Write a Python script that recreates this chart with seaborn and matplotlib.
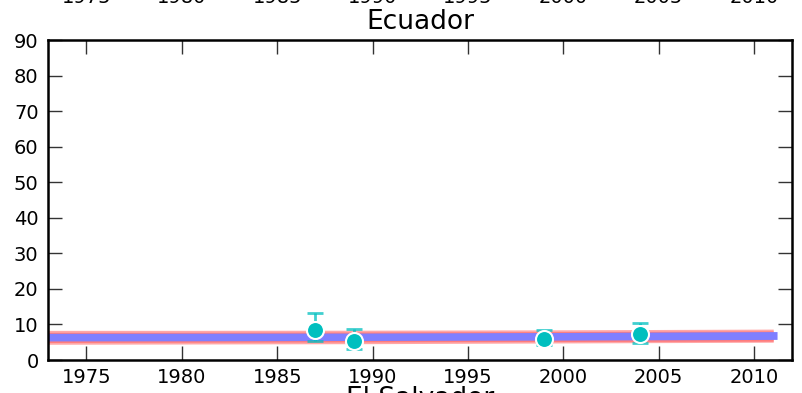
import matplotlib
matplotlib.use("Agg")
import matplotlib.pyplot as plt
import matplotlib.transforms as mtransforms
import seaborn as sns
import pandas as pd

# survey points with error bars
years = [1987, 1989, 1999, 2004]
values = [8.45, 5.4, 5.9, 7.2]
err_low = [5.4, 3.0, 4.3, 4.7]
err_high = [13.1, 8.7, 8.45, 10.3]

# model bands (outer / inner red, blue)
band_years = [1970, 1980, 1990, 2000, 2011]
outer_lo = [4.4, 4.5, 4.6, 4.8, 5.0]
outer_hi = [8.35, 8.35, 8.4, 8.5, 8.7]
inner_lo = [4.9, 5.0, 5.1, 5.2, 5.3]
inner_hi = [7.8, 7.8, 7.9, 8.0, 8.2]
blue_years = [1970, 1980, 1990, 2000, 2011.2]
blue_lo = [5.35, 5.4, 5.5, 5.6, 5.8]
blue_hi = [7.5, 7.55, 7.6, 7.75, 8.0]

top_labels = [1975, 1980, 1985, 1990, 1995, 2000, 2005, 2010]

sns.set_style("white")
plt.rcParams["font.family"] = ["DejaVu Sans"]
plt.rcParams["text.color"] = "black"
plt.rcParams["xtick.color"] = "black"
plt.rcParams["ytick.color"] = "black"

fig = plt.figure(figsize=(8.03, 3.93), dpi=100)
ax = fig.add_axes([48.3 / 803, 33 / 393, 744 / 803, 319.7 / 393])

ax.fill_between(band_years, outer_lo, outer_hi, color="#ff6060", alpha=0.55, lw=0)
ax.fill_between(band_years, inner_lo, inner_hi, color="#ff6060", alpha=0.6, lw=0)
ax.fill_between(blue_years, blue_lo, blue_hi, color="#7f7fff", lw=0)

df = pd.DataFrame({"year": years, "value": values})
yerr = [[v - lo for v, lo in zip(values, err_low)],
        [hi - v for v, hi in zip(values, err_high)]]
ax.errorbar(years, values, yerr=yerr, fmt="none", ecolor="#00bfbf",
            alpha=0.75, elinewidth=2, capsize=6, capthick=2, zorder=3)
sns.scatterplot(data=df, x="year", y="value", ax=ax, color="#00bfbf",
                s=150, edgecolor="white", linewidth=1.5, zorder=4, legend=False)

ax.set_xlim(1973, 2012)
ax.set_ylim(0, 90)
ax.set_xticks(top_labels)
ax.set_yticks(range(0, 91, 10))
ax.set_xlabel("")
ax.set_ylabel("")
ax.tick_params(direction="in", length=10, width=1, labelsize=14,
               top=True, right=True, bottom=True, left=True,
               color="#333333", labelcolor="black")
ax.tick_params(axis="x", pad=6)
ax.tick_params(axis="y", pad=7)
for sp in ax.spines.values():
    sp.set_visible(True)
    sp.set_linewidth(1.8)
    sp.set_color("black")

ax.set_title("Ecuador", fontsize=19, pad=8, color="black")

# neighbouring panels, cut off by the crop
trans = mtransforms.blended_transform_factory(ax.transData, fig.transFigure)
for yr in top_labels:
    fig.text(yr, 1 - 3 / 393, str(yr), transform=trans, ha="center",
             va="baseline", fontsize=14)
fig.text(ax.get_position().x0 + ax.get_position().width / 2, 7 / 393,
         "El Salvador", ha="center", va="top", fontsize=19)

fig.savefig("out.png", dpi=100)
plt.close(fig)
